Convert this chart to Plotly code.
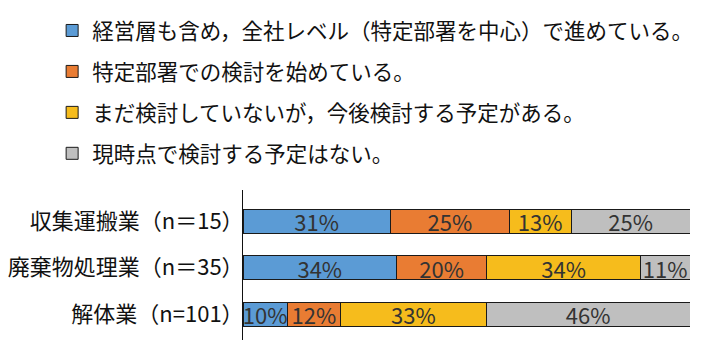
import plotly.graph_objects as go

# Survey groups (top to bottom) and answer shares in percent
groups = ["収集運搬業（n＝15）", "廃棄物処理業（n＝35）", "解体業（n=101）"]
answers = [
    "経営層も含め，全社レベル（特定部署を中心）で進めている。",
    "特定部署での検討を始めている。",
    "まだ検討していないが，今後検討する予定がある。",
    "現時点で検討する予定はない。",
]
company_wide = [31, 34, 10]
dept_started = [25, 20, 12]
planned = [13, 34, 33]
no_plan = [25, 11, 46]

colors = ["#5B9BD5", "#E97C33", "#F6BC1C", "#BFBFBF"]
series = [company_wide, dept_started, planned, no_plan]

FONT = "Noto Sans CJK JP"

fig = go.Figure()
for i, (name, vals, col) in enumerate(zip(answers, series, colors)):
    fig.add_trace(go.Bar(
        y=groups,
        x=vals,
        name=name,
        orientation="h",
        legendgroup=f"g{i}",
        marker=dict(color=col, line=dict(color="#1a1a1a", width=1)),
        text=[f"{v}%" for v in vals],
        textposition="inside",
        insidetextanchor="middle",
        textangle=0,
        textfont=dict(family=FONT, size=22, color="#333333"),
        hoverinfo="skip",
    ))

fig.update_layout(
    width=703,
    height=340,
    margin=dict(l=243, r=13, t=190, b=0),
    barmode="stack",
    barnorm="percent",
    bargap=0.484,
    paper_bgcolor="white",
    plot_bgcolor="white",
    font=dict(family=FONT, color="#111111"),
    uniformtext=dict(minsize=22, mode="show"),
    showlegend=True,
    legend=dict(
        x=-0.427, xanchor="left",
        y=2.20, yanchor="top",
        traceorder="grouped",
        tracegroupgap=10,
        font=dict(family=FONT, size=21.5, color="#111111"),
        bgcolor="rgba(0,0,0,0)",
    ),
    xaxis=dict(range=[0, 100], visible=False, fixedrange=True),
    yaxis=dict(
        type="category",
        categoryorder="array",
        categoryarray=list(reversed(groups)),
        range=[-0.555, 2.673],
        showline=True, linecolor="#111111", linewidth=1,
        ticks="", showgrid=False, zeroline=False,
        ticklabelstandoff=-6,
        automargin=False,
        tickfont=dict(family=FONT, size=22, color="#111111"),
        fixedrange=True,
    ),
)

fig.write_html("out.html")
